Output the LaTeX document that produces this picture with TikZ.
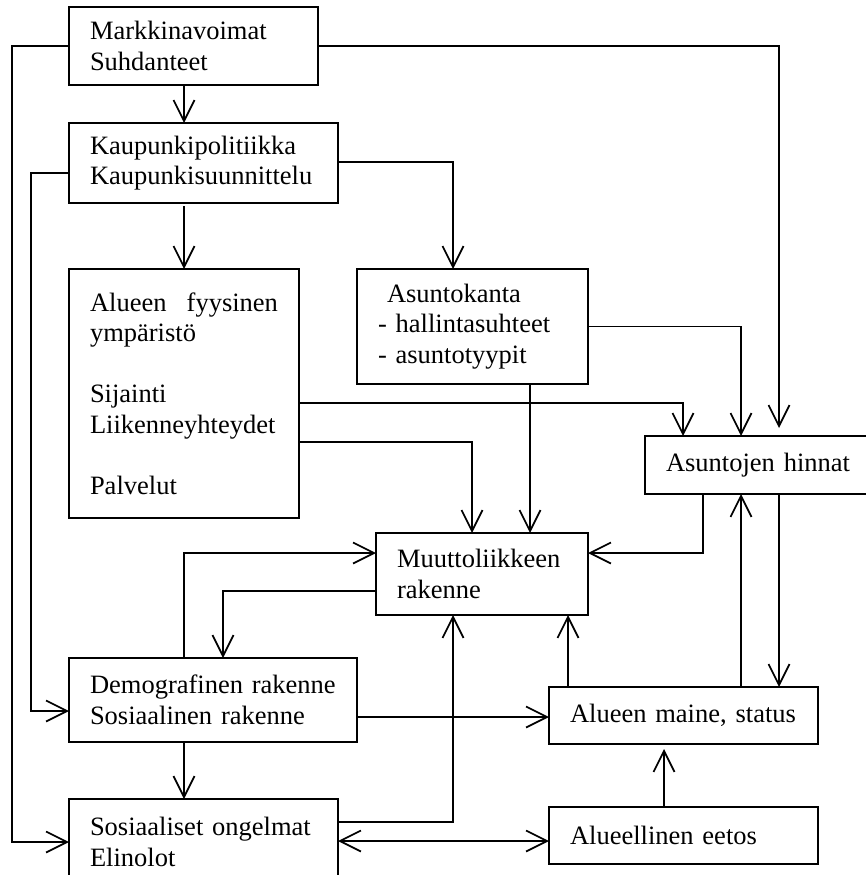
\documentclass[tikz,border=0pt]{standalone}
\usepackage{fontspec}
\setmainfont{Liberation Serif}
\usetikzlibrary{arrows.meta}
\newcommand{\tnrfont}{\fontsize{26.5}{30.5}\selectfont}
\begin{document}
\begin{tikzpicture}[x=1pt,y=-1pt,
  box/.style={draw, line width=2pt, inner xsep=21pt, inner ysep=2pt, align=left, font=\tnrfont, outer sep=0pt},
  conn/.style={line width=1.7pt},
  arr/.style={conn, -{Straight Barb[length=21pt,width=21pt]}},
  arrtwo/.style={conn, {Straight Barb[length=21pt,width=21pt]}-{Straight Barb[length=21pt,width=21pt]}}]
\useasboundingbox (0,0) rectangle (866,875);
\fill[white] (0,0) rectangle (866,875);
\clip (0,0) rectangle (866,875);

\node[box, text width=207pt, minimum height=78pt] (mark) at (193.5,46) {Markkinavoimat\\Suhdanteet};
\node[box, text width=227pt, minimum height=80pt] (kaup) at (203.5,163) {Kaupunkipolitiikka\\Kaupunkisuunnittelu};
\node[box, text width=188pt, minimum height=249pt] (fyys) at (184,393.5) {Alueen\hfill fyysinen\hspace*{-7pt}\\ymp\"arist\"o\\[30.5pt]Sijainti\\Liikenneyhteydet\\[30.5pt]Palvelut\par\vspace*{10pt}};
\node[box, text width=189pt, minimum height=115pt] (asko) at (472.5,326.5) {\hspace*{9pt}Asuntokanta\\- hallintasuhteet\\- asuntotyypit};
\node[box, text width=226pt, minimum height=58pt] (hinn) at (779,465) {Asuntojen~hinnat};
\node[box, text width=170pt, minimum height=82pt] (muut) at (482,574) {Muuttoliikkeen\\rakenne};
\node[box, text width=246pt, minimum height=84pt] (demo) at (213,700) {Demografinen~rakenne\\Sosiaalinen~rakenne};
\node[box, text width=227pt, minimum height=57pt] (maine) at (683.5,715.5) {Alueen~maine,~status};
\node[box, text width=227pt, minimum height=86pt] (sos) at (203.5,842) {Sosiaaliset~ongelmat\\Elinolot};
\node[box, text width=227pt, minimum height=57pt] (eetos) at (683.5,835.5) {Alueellinen~eetos};

% connectors
\draw[arr] (mark.west) -- ++(-57,0) |- (sos.west);
\draw[arr] (mark.east) -| ([yshift=8pt]hinn.north);
\draw[arr] (mark.south -| fyys.north) -- (kaup.north -| fyys.north);
\draw[arr] ([yshift=-10pt]kaup.west) -- ++(-38,0) |- ([yshift=-11pt]demo.west);
\draw[arr] ([yshift=1pt]kaup.east) -| ([xshift=-19.5pt]asko.north);
\draw[arr] ([yshift=-3pt]kaup.south -| fyys.north) -- (fyys.north);
\draw[arr] ([yshift=-9.5pt]fyys.east) -| ([xshift=-96pt]hinn.north);
\draw[arr] ([yshift=-48.5pt]fyys.east) -| ([xshift=-10pt]muut.north);
\draw[arr] (asko.east) -| ([xshift=-38pt]hinn.north);
\draw[arr] ([xshift=57.5pt]asko.south) -- ([xshift=48pt]muut.north);
\draw[arr] ([xshift=-76pt]hinn.south) |- ([yshift=21pt]muut.east);
\draw[arr] ([xshift=57.5pt]maine.north) -- ([xshift=-38pt]hinn.south);
\draw[arr] (hinn.south) -- ([xshift=95.5pt]maine.north);
\draw[arr] ([xshift=-29pt]demo.north) |- ([yshift=21pt]muut.west);
\draw[arr] ([yshift=-17pt]muut.west) -| ([xshift=10pt]demo.north);
\draw[arr] ([yshift=-17pt]demo.east) -- ([yshift=-17pt]demo.east -| maine.west);
\draw[arr] ([xshift=-29pt]demo.south) -- ([xshift=-19.5pt]sos.north);
\draw[arr] ([yshift=20pt]sos.east) -| ([xshift=-29pt]muut.south);
\draw[arr] ([xshift=-115.5pt]maine.north) -- ([xshift=86pt]muut.south);
\draw[arr] ([xshift=-19.5pt]eetos.north) -- ([xshift=-19.5pt,yshift=-5pt]maine.south);
\draw[arrtwo] ([yshift=1pt]sos.east) -- ([yshift=1pt]sos.east -| eetos.west);
\end{tikzpicture}
\end{document}
